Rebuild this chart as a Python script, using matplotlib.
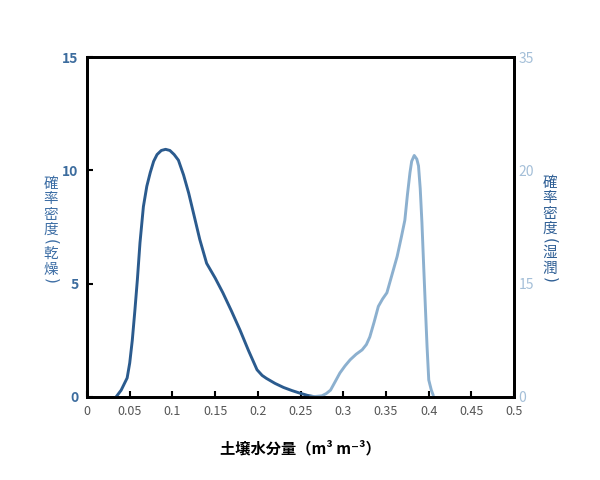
import matplotlib
matplotlib.use('Agg')
import matplotlib.pyplot as plt

plt.rcParams['font.family'] = ['Noto Sans CJK JP', 'DejaVu Sans']

# Dry soil density (left axis units)
dry_x = [0.034, 0.040, 0.047, 0.050, 0.053, 0.056, 0.059, 0.062, 0.066, 0.070,
         0.074, 0.078, 0.082, 0.087, 0.092, 0.097, 0.102, 0.107, 0.113, 0.119,
         0.126, 0.132, 0.140, 0.150, 0.159, 0.169, 0.179, 0.189, 0.199, 0.205,
         0.210, 0.220, 0.230, 0.240, 0.249, 0.258, 0.265]
dry_y = [0.0, 0.3, 0.84, 1.5, 2.5, 3.8, 5.2, 6.8, 8.4, 9.3,
         9.9, 10.4, 10.7, 10.88, 10.93, 10.88, 10.7, 10.45, 9.8, 9.0,
         7.9, 6.95, 5.9, 5.25, 4.6, 3.8, 2.96, 2.05, 1.2, 0.95,
         0.82, 0.6, 0.42, 0.28, 0.17, 0.07, 0.02]

# Wet soil density (right axis units)
wet_x = [0.262, 0.275, 0.280, 0.285, 0.290, 0.296, 0.302, 0.308, 0.315, 0.322,
         0.327, 0.331, 0.336, 0.341, 0.346, 0.351, 0.357, 0.363, 0.368, 0.372,
         0.375, 0.378, 0.380, 0.383, 0.386, 0.388, 0.390, 0.392, 0.394, 0.396,
         0.398, 0.400, 0.403, 0.405]
wet_y = [0.0, 0.12, 0.35, 0.7, 1.5, 2.47, 3.2, 3.83, 4.4, 4.85,
         5.4, 6.18, 7.7, 9.33, 10.1, 10.73, 12.6, 14.47, 16.5, 18.2,
         20.8, 23.1, 24.27, 24.87, 24.5, 23.8, 21.47, 17.97, 13.6, 9.33,
         5.2, 1.75, 0.7, 0.23]

xticks = [0, 0.05, 0.1, 0.15, 0.2, 0.25, 0.3, 0.35, 0.4, 0.45, 0.5]
xtick_labels = ['0', '0.05', '0.1', '0.15', '0.2', '0.25', '0.3', '0.35', '0.4', '0.45', '0.5']
left_ticks = [0, 5, 10, 15]
right_labels = ['0', '15', '20', '35']
left_title = '確率密度(乾燥)'
right_title = '確率密度(湿潤)'

DRY = '#2b5b8e'
WET = '#8cb0cf'

fig = plt.figure(figsize=(6, 4.8), dpi=100)
ax = fig.add_axes([0.145, 0.173, 0.712, 0.708])
ax2 = ax.twinx()

ax.plot(dry_x, dry_y, color=DRY, lw=2.1, zorder=3, solid_joinstyle='round')
ax2.plot(wet_x, wet_y, color=WET, lw=2.1, solid_joinstyle='round')

ax.set_xlim(0, 0.5)
ax.set_ylim(0, 15)
ax2.set_ylim(0, 35)

ax.set_xticks(xticks)
ax.set_xticklabels(xtick_labels, fontsize=9)
ax.set_yticks(left_ticks)
ax.set_yticklabels([str(t) for t in left_ticks], fontsize=10, fontweight='bold')
ax.tick_params(direction='in', length=4, width=1.5, colors='black', pad=6)
for lab in ax.get_yticklabels():
  lab.set_color('#3c6c9e')
for lab in ax.get_xticklabels():
  lab.set_color('#555555')

# right axis ticks at the same heights as the left ones
ax2.set_yticks([t * 35 / 15 for t in left_ticks])
ax2.set_yticklabels(right_labels, color='#a4bfd8', fontsize=10)
ax2.tick_params(length=0, pad=3)

for a in (ax, ax2):
  for sp in a.spines.values():
    sp.set_linewidth(2)
    sp.set_color('black')

ax.set_xlabel('土壌水分量（m³ m⁻³）', fontsize=11, fontweight='bold', labelpad=16)

# vertical (tategaki) axis titles, one character at a time
def vertical_title(text, x_px, top_px, color):
  y = top_px
  for ch in text:
    bracket = ch in '()'
    step = 7 if bracket else 15.5
    y += step / 2
    if bracket:
      fig.text(x_px / 600, 1 - y / 480, ch, color=color, fontsize=11,
               family='DejaVu Sans', ha='center', va='center', rotation=-90)
    else:
      fig.text(x_px / 600, 1 - y / 480, ch, color=color, fontsize=10.5,
               ha='center', va='center')
    y += step / 2 + 1.5 * bracket

vertical_title(left_title, 51, 176, '#3d6ea5')
vertical_title(right_title, 550, 175, '#2f5f95')

plt.savefig('out.png', dpi=100)
